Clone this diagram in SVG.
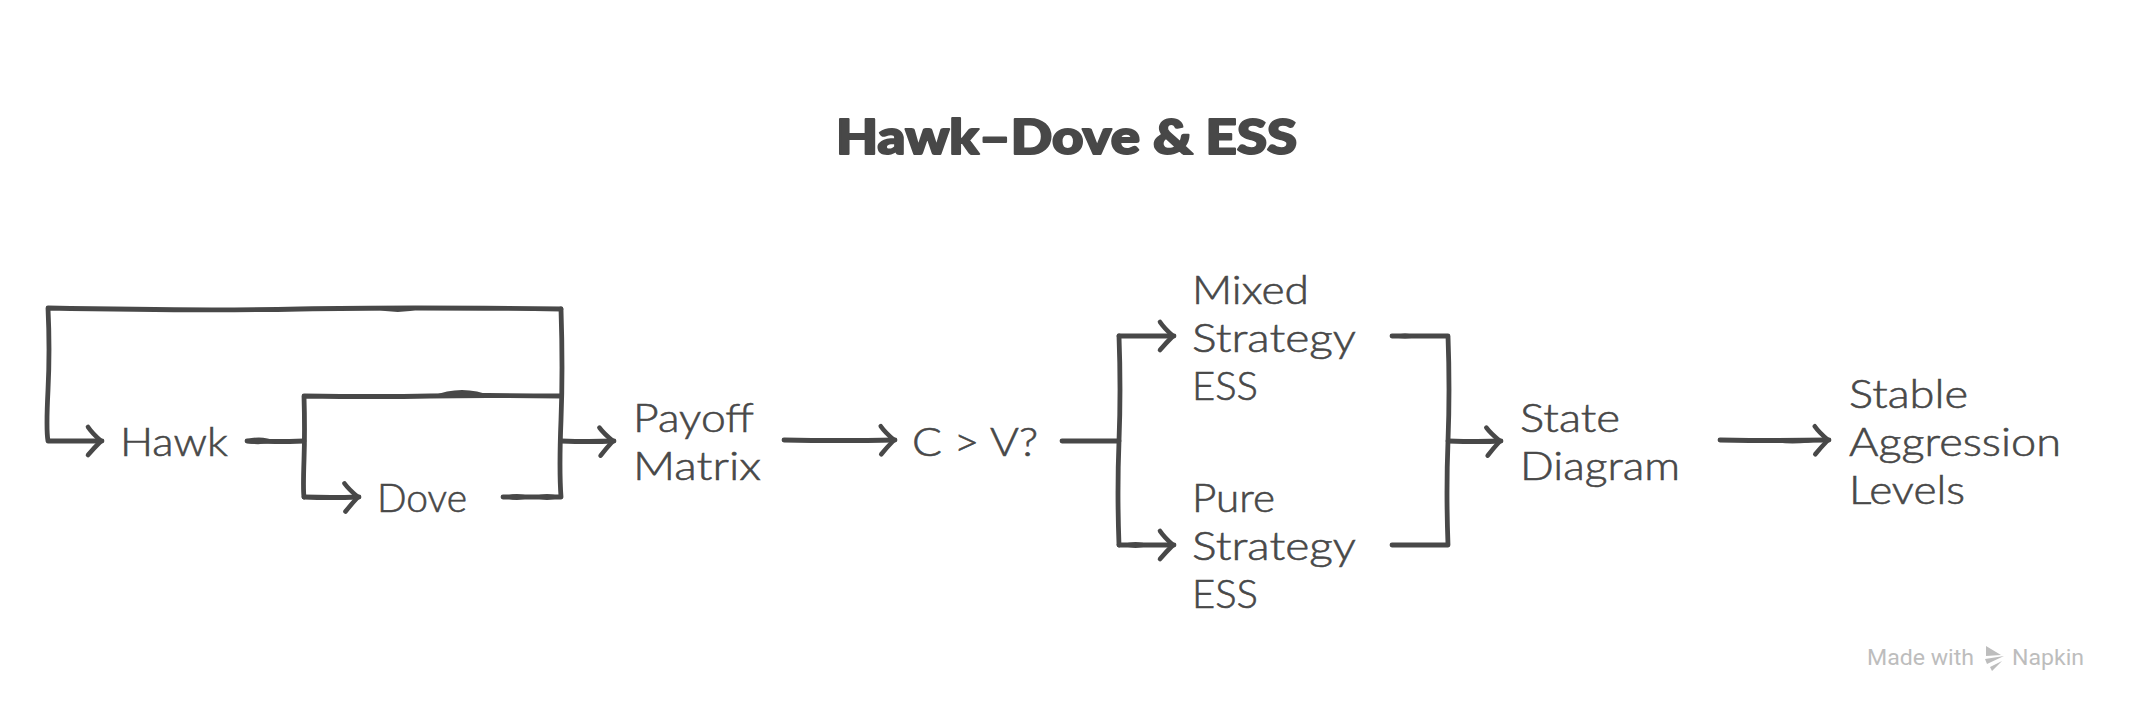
<svg xmlns="http://www.w3.org/2000/svg" width="2132" height="712" viewBox="0 0 2132 712">
<style>
text{font-family:"Lato","Open Sans","Liberation Sans",sans-serif;fill:#484848}
.n{font-size:39px;font-weight:300;stroke:#484848;stroke-width:.6px}
.t{font-size:47px;font-weight:900;stroke:#484848;stroke-width:2px;stroke-linejoin:round}
.w{font-family:"Roboto","Liberation Sans",sans-serif;font-size:22px;fill:#bdbdbd}
.c{fill:none;stroke:#484848;stroke-width:4.8;stroke-linecap:round;stroke-linejoin:round}
.b{fill:#484848;stroke:none}
.a{marker-end:url(#h)}
</style>
<defs>
<marker id="h" markerUnits="userSpaceOnUse" markerWidth="40" markerHeight="40" refX="20" refY="20" viewBox="0 0 40 40" orient="auto" overflow="visible">
<path d="M6 6Q10 12 19 20Q12 27 6 34" fill="none" stroke="#484848" stroke-width="4.6" stroke-linecap="round" stroke-linejoin="round"/>
</marker>
</defs>
<rect width="2132" height="712" fill="#fff"/>
<g id="connectors">
<path class="c a" d="M561 309Q400 307 300 309T48 308Q50 350 48 390T48 441L102 441"/>
<path class="c" d="M561 396Q480 395 430 396T304 396Q305 430 304 460T304 497"/>
<path class="c a" d="M304 497Q330 498 359 497"/>
<path class="c" d="M561 309Q563 370 561 420T561 497L503 497"/>
<path class="c" d="M247 441Q275 442 304 441"/>
<path class="c a" d="M561 441Q590 442 614 441"/>
<path class="c a" d="M784 440Q840 441 895 440"/>
<path class="c" d="M1062 441L1119 441"/>
<path class="c" d="M1119 336Q1121 390 1119 441T1119 545"/>
<path class="c a" d="M1119 336L1174 336"/>
<path class="c a" d="M1119 545L1174 545"/>
<path class="c" d="M1392 336L1448 336Q1450 390 1448 441T1448 545L1392 545"/>
<path class="c a" d="M1448 441Q1480 442 1501 441"/>
<path class="c a" d="M1720 440Q1780 441 1829 440"/>
<path class="b" d="M375 309Q398 303 420 309Q398 315 375 309ZM432 396Q462 384 492 396ZM247 439Q262 435 276 441Q262 446 247 443ZM503 497Q517 491 531 497Q517 503 503 497ZM533 497Q547 491 561 497Q547 503 533 497ZM1765 440Q1790 436 1825 440Q1790 447 1765 440ZM1392 336Q1405 331 1418 336Q1405 341 1392 336ZM1122 545Q1135 539 1150 545Q1135 551 1122 545Z"/>
</g>
<g id="title"><text class="t" x="836" y="154" textLength="461" lengthAdjust="spacingAndGlyphs">Hawk–Dove &amp; ESS</text></g>
<g id="hawk"><text class="n" x="120" y="456" textLength="108" lengthAdjust="spacingAndGlyphs">Hawk</text></g>
<g id="dove"><text class="n" x="377" y="512" textLength="90" lengthAdjust="spacingAndGlyphs">Dove</text></g>
<g id="payoff-matrix"><text class="n" x="633" y="432" textLength="121" lengthAdjust="spacingAndGlyphs">Payoff</text><text class="n" x="633" y="480" textLength="128" lengthAdjust="spacingAndGlyphs">Matrix</text></g>
<g id="c-v"><text class="n" x="912" y="456" textLength="126" lengthAdjust="spacingAndGlyphs">C &gt; V?</text></g>
<g id="mixed-ess"><text class="n" x="1192" y="304" textLength="117" lengthAdjust="spacingAndGlyphs">Mixed</text><text class="n" x="1192" y="352" textLength="164" lengthAdjust="spacingAndGlyphs">Strategy</text><text class="n" x="1192" y="400" textLength="66" lengthAdjust="spacingAndGlyphs">ESS</text></g>
<g id="pure-ess"><text class="n" x="1192" y="512" textLength="83" lengthAdjust="spacingAndGlyphs">Pure</text><text class="n" x="1192" y="560" textLength="164" lengthAdjust="spacingAndGlyphs">Strategy</text><text class="n" x="1192" y="608" textLength="66" lengthAdjust="spacingAndGlyphs">ESS</text></g>
<g id="state-diagram"><text class="n" x="1520" y="432" textLength="100" lengthAdjust="spacingAndGlyphs">State</text><text class="n" x="1520" y="480" textLength="160" lengthAdjust="spacingAndGlyphs">Diagram</text></g>
<g id="stable-levels"><text class="n" x="1849" y="408" textLength="119" lengthAdjust="spacingAndGlyphs">Stable</text><text class="n" x="1849" y="456" textLength="212" lengthAdjust="spacingAndGlyphs">Aggression</text><text class="n" x="1849" y="504" textLength="116" lengthAdjust="spacingAndGlyphs">Levels</text></g>
<g id="watermark"><text class="w" x="1867" y="665" textLength="107" lengthAdjust="spacingAndGlyphs">Made with</text><path d="M1986 646L2001 655L1986 656ZM1985 659L2004 656L1987 664ZM1990 667L2002 661L1992 671Z" fill="#bdbdbd"/><text class="w" x="2012" y="665" textLength="72" lengthAdjust="spacingAndGlyphs">Napkin</text></g>
</svg>
